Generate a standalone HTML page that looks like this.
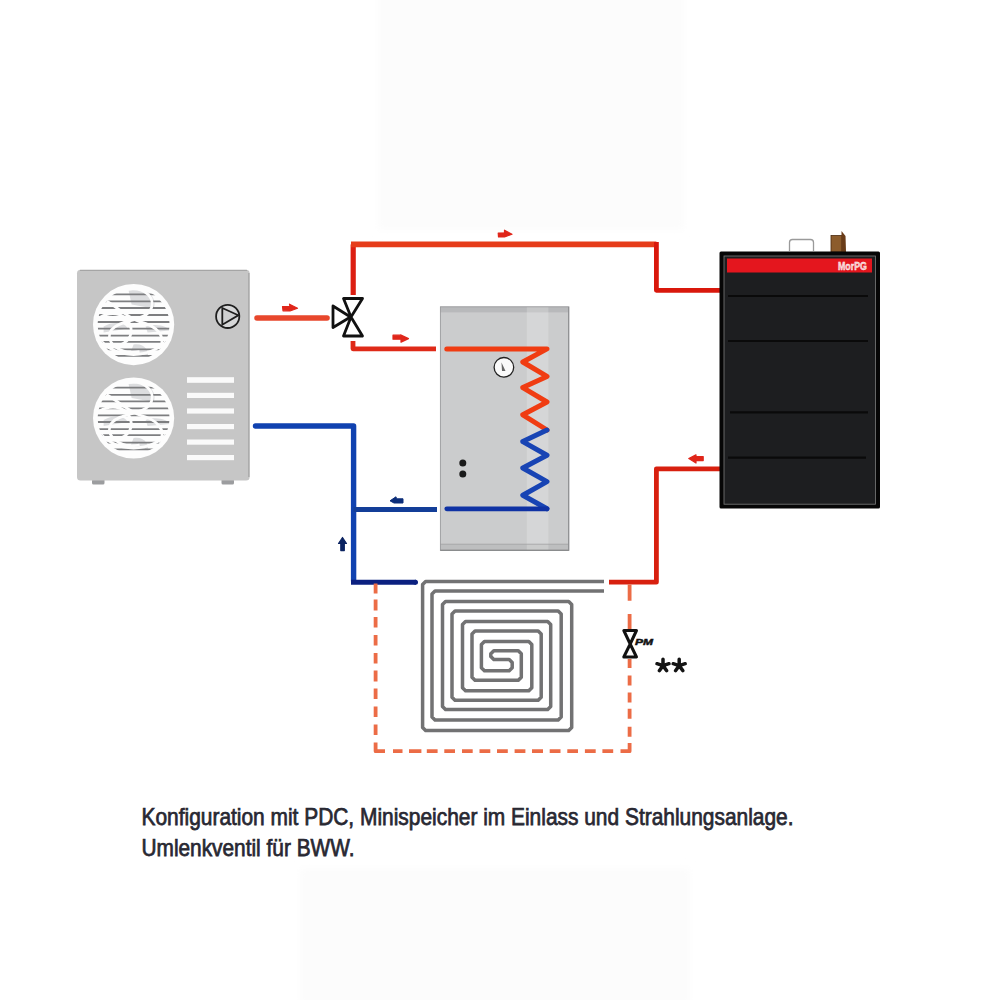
<!DOCTYPE html>
<html><head><meta charset="utf-8">
<style>
html,body{margin:0;padding:0;background:#ffffff;width:1000px;height:1000px;overflow:hidden}
svg{position:absolute;left:0;top:0}
</style></head>
<body>
<svg width="1000" height="1000" viewBox="0 0 1000 1000">
<defs>
<clipPath id="fc1"><circle cx="133.6" cy="324.6" r="36"/></clipPath>
<clipPath id="fc2"><circle cx="133.6" cy="418" r="36"/></clipPath>
<filter id="blur4" x="-20%" y="-20%" width="140%" height="140%"><feGaussianBlur stdDeviation="4"/></filter>
</defs>
<g filter="url(#blur4)" fill="#fcfcfc">
<rect x="378" y="-10" width="306" height="240"/>
<rect x="300" y="868" width="390" height="140"/>
</g>
<rect x="92" y="479" width="12.5" height="5.5" rx="1.5" fill="#9c9d9f"/>
<rect x="221.5" y="479" width="12.5" height="5.5" rx="1.5" fill="#9c9d9f"/>
<rect x="77" y="269.8" width="172.6" height="210.8" rx="3.5" fill="#c6c6c6"/>
<line x1="80" y1="270.4" x2="247" y2="270.4" stroke="#a2a2a2" stroke-width="1"/>
<line x1="248.8" y1="273" x2="248.8" y2="477" stroke="#acacac" stroke-width="1.6"/>
<circle cx="133.6" cy="324.6" r="40.6" fill="#fdfdfd"/>
<g clip-path="url(#fc1)" fill="#dcdddf"><path d="M128.6 290.6 C148.6 286.6 157.6 298.6 153.6 308.6 L131.6 304.6 Z"/><path d="M145.6 326.6 C157.6 322.6 167.6 326.6 169.6 330.6 L147.6 332.6 Z"/><path d="M103.6 326.6 C113.6 320.6 125.6 322.6 127.6 328.6 L103.6 332.6 Z"/><path d="M133.6 344.6 C143.6 342.6 149.6 350.6 147.6 356.6 L129.6 354.6 Z"/></g>
<g clip-path="url(#fc1)" stroke="#7d7e80" stroke-width="1.8"><line x1="88.6" y1="294.3" x2="178.6" y2="294.3"/><line x1="88.6" y1="301.40000000000003" x2="178.6" y2="301.40000000000003"/><line x1="88.6" y1="308.0" x2="178.6" y2="308.0"/><line x1="88.6" y1="315.0" x2="178.6" y2="315.0"/><line x1="88.6" y1="322.0" x2="178.6" y2="322.0"/><line x1="88.6" y1="328.6" x2="178.6" y2="328.6"/><line x1="88.6" y1="335.70000000000005" x2="178.6" y2="335.70000000000005"/><line x1="88.6" y1="341.8" x2="178.6" y2="341.8"/><line x1="88.6" y1="349.3" x2="178.6" y2="349.3"/><line x1="88.6" y1="355.90000000000003" x2="178.6" y2="355.90000000000003"/></g>
<g fill="none" stroke="#fdfdfd" stroke-width="2.8" clip-path="url(#fc1)"><path d="M125.6 289.6 C145.6 285.6 157.6 299.6 149.6 311.6 C141.6 321.6 119.6 319.6 111.6 329.6 C103.6 341.6 119.6 355.6 139.6 351.6"/><path d="M103.6 299.6 C115.6 305.6 127.6 317.6 139.6 321.6 C155.6 325.6 167.6 335.6 159.6 349.6"/><path d="M99.6 317.6 C109.6 311.6 123.6 311.6 129.6 323.6 C135.6 337.6 123.6 347.6 109.6 345.6"/><path d="M97.6 336.6 C113.6 360.6 153.6 360.6 169.6 336.6"/></g>
<circle cx="133.6" cy="418.0" r="40.6" fill="#fdfdfd"/>
<g clip-path="url(#fc2)" fill="#dcdddf"><path d="M128.6 384.0 C148.6 380.0 157.6 392.0 153.6 402.0 L131.6 398.0 Z"/><path d="M145.6 420.0 C157.6 416.0 167.6 420.0 169.6 424.0 L147.6 426.0 Z"/><path d="M103.6 420.0 C113.6 414.0 125.6 416.0 127.6 422.0 L103.6 426.0 Z"/><path d="M133.6 438.0 C143.6 436.0 149.6 444.0 147.6 450.0 L129.6 448.0 Z"/></g>
<g clip-path="url(#fc2)" stroke="#7d7e80" stroke-width="1.8"><line x1="88.6" y1="387.7" x2="178.6" y2="387.7"/><line x1="88.6" y1="394.8" x2="178.6" y2="394.8"/><line x1="88.6" y1="401.4" x2="178.6" y2="401.4"/><line x1="88.6" y1="408.4" x2="178.6" y2="408.4"/><line x1="88.6" y1="415.4" x2="178.6" y2="415.4"/><line x1="88.6" y1="422.0" x2="178.6" y2="422.0"/><line x1="88.6" y1="429.1" x2="178.6" y2="429.1"/><line x1="88.6" y1="435.2" x2="178.6" y2="435.2"/><line x1="88.6" y1="442.7" x2="178.6" y2="442.7"/><line x1="88.6" y1="449.3" x2="178.6" y2="449.3"/></g>
<g fill="none" stroke="#fdfdfd" stroke-width="2.8" clip-path="url(#fc2)"><path d="M125.6 383.0 C145.6 379.0 157.6 393.0 149.6 405.0 C141.6 415.0 119.6 413.0 111.6 423.0 C103.6 435.0 119.6 449.0 139.6 445.0"/><path d="M103.6 393.0 C115.6 399.0 127.6 411.0 139.6 415.0 C155.6 419.0 167.6 429.0 159.6 443.0"/><path d="M99.6 411.0 C109.6 405.0 123.6 405.0 129.6 417.0 C135.6 431.0 123.6 441.0 109.6 439.0"/><path d="M97.6 430.0 C113.6 454.0 153.6 454.0 169.6 430.0"/></g>
<g fill="#fafafa">
<rect x="187" y="377.2" width="47" height="5.6"/>
<rect x="187" y="392.8" width="47" height="5.2"/>
<rect x="187" y="408.4" width="47" height="5.2"/>
<rect x="187" y="424" width="47" height="5.2"/>
<rect x="187" y="439.5" width="47" height="5.2"/>
<rect x="187" y="455" width="47" height="5.2"/>
</g>
<g fill="none" stroke="#1e1e1e" stroke-width="1.8">
<circle cx="227.7" cy="316.4" r="11.6" fill="#d6d7d8"/>
<path d="M222.3 308 L238.3 315.3 L222.3 324.7 Z" fill="#cfd0d1"/>
</g>
<g fill="none" stroke-linejoin="round">
<line x1="257" y1="318" x2="327" y2="318" stroke="#e8472c" stroke-width="5.6" stroke-linecap="round"/>
<path d="M353.2 295 L353.2 244.4" stroke="#dc1e12" stroke-width="5.2"/>
<path d="M351 244.4 L656.4 244.4" stroke="#e63c1a" stroke-width="5.8"/>
<path d="M656.4 242 L656.4 290.3 L721 290.3" stroke="#d9180c" stroke-width="4.8"/>
<path d="M353 341 L353 348.8 L436 348.8" stroke="#df2a18" stroke-width="4.8"/>
<path d="M721 468.8 L656.4 468.8 L656.4 582.2 L609 582.2" stroke="#d8200f" stroke-width="4.8"/>
</g>
<g fill="none" stroke-linejoin="round">
<path d="M255.5 426 L353.6 426 L353.6 581" stroke="#1042b0" stroke-width="5.4" stroke-linecap="round"/>
<path d="M353.6 509.5 L437 509.5" stroke="#133e98" stroke-width="5"/>
<path d="M351 582.3 L416 582.3" stroke="#0b2080" stroke-width="5" stroke-linecap="butt"/>
<circle cx="415.5" cy="582.3" r="2.5" fill="#0b2080"/>
</g>
<g fill="none" stroke="#111" stroke-width="2.8" stroke-linejoin="round">
<path d="M343.5 298.5 L362.5 298.5 L351 317 L362.5 336 L343.5 336 L351 317 Z"/>
<path d="M333 306 L350.5 317 L333 327.5 Z"/>
</g>
<rect x="440.4" y="306.8" width="128.5" height="243.6" fill="#cbcccd"/>
<rect x="440.4" y="306.8" width="128.5" height="5.6" fill="#b8b9bb"/>
<rect x="440.4" y="544" width="128.5" height="6.4" fill="#bdbebf"/>
<rect x="526.8" y="306.8" width="21.6" height="243.6" fill="#ffffff" fill-opacity="0.2"/>
<line x1="440.4" y1="544.2" x2="568.9" y2="544.2" stroke="#a2a3a5" stroke-width="0.8"/>
<rect x="440.4" y="306.8" width="128.5" height="243.6" fill="none" stroke="#9a9b9d" stroke-width="0.9"/>
<line x1="440.4" y1="550.2" x2="568.9" y2="550.2" stroke="#808183" stroke-width="1"/>
<line x1="568.6" y1="307" x2="568.6" y2="550.5" stroke="#8e8f91" stroke-width="1"/>
<path d="M446.8 348.9 L547 348.9 L522.8 362 L547 376.4 L522.8 387.6 L547 402 L522.8 414.8 L547 430" fill="none" stroke="#f03c12" stroke-width="5" stroke-linejoin="round" stroke-linecap="round"/>
<path d="M547 430 L522.8 441.6 L547 455.2 L522.8 468 L547 481.6 L522.8 495.2 L547 508.8" fill="none" stroke="#1844b4" stroke-width="5" stroke-linejoin="round" stroke-linecap="round"/>
<path d="M446.8 508.8 L547 508.8" stroke="#0f32a4" stroke-width="4.8" stroke-linecap="round"/>
<circle cx="503.9" cy="367.3" r="9.8" fill="#fafafa" stroke="#222" stroke-width="1.3"/>
<path d="M501.5 362.5 L502 371 L505.5 371 Z" fill="#666"/>
<circle cx="462.8" cy="462.9" r="3.5" fill="#1a1a1a"/>
<circle cx="462.8" cy="474" r="3.5" fill="#1a1a1a"/>
<g fill="#e0261a" stroke="#e0261a" stroke-width="1.2" stroke-linejoin="round">
<path d="M282.5 306.5 L290 306.5 L289.5 304.2 L297.5 308.2 L290 311 L283 310.8 Z"/>
<path d="M393 335.2 L400.5 335.2 L400.5 334.9 L408.5 338.6 L401 342.2 L401 339.2 L393 339.2 Z"/>
<path d="M498.2 233 L504.5 232.8 L504.5 230.2 L512 234.2 L504.5 237 L498.5 237 Z"/>
<path d="M703.2 456.6 L696 456.6 L696 454.8 L688.8 458.6 L696 463 L696 460.6 L703.2 460.6 Z"/>
</g>
<path d="M403 498.8 L396.5 498.8 L396 496.8 L390 500.8 L394 503 L403 503 Z" fill="#0c2e7a" stroke="#0c2e7a" stroke-width="1" stroke-linejoin="round"/>
<path d="M340.8 550.6 L340.8 543.5 L338.5 543.5 L342.5 537.5 L346.5 543.5 L344.3 543.5 L344.3 550.6 Z" fill="#0a2260" stroke="#0a2260" stroke-width="1.2" stroke-linejoin="round"/>
<path d="M789.5 251 L789.5 242.5 Q789.5 239.5 792.5 239.5 L810.5 239.5 Q813.5 239.5 813.5 242.5 L813.5 251" fill="none" stroke="#9a9a9a" stroke-width="1.3"/>
<rect x="831" y="235.5" width="11" height="16.5" fill="#8c5c2c" stroke="#4a2a10" stroke-width="0.8"/>
<path d="M841.5 231 L845.5 236 L846 252 L841.5 252 Z" fill="#6a3c18"/>
<rect x="719.5" y="251.5" width="160.5" height="257" rx="1.5" fill="#060606"/>
<rect x="724" y="256" width="151.6" height="248.2" fill="#1d1e20" stroke="#7c7c7c" stroke-width="0.8"/>
<rect x="727" y="258.5" width="145" height="14" fill="#e4161e"/>
<text x="838" y="270" font-family="Liberation Sans, sans-serif" font-weight="bold" font-size="10.5" fill="#f4c0c0" stroke="#fff" stroke-width="0.4" textLength="29" lengthAdjust="spacingAndGlyphs">MorPG</text>
<g stroke="#0a0a0a" stroke-width="2.2">
<line x1="728" y1="296" x2="868" y2="296"/>
<line x1="728" y1="341" x2="868" y2="341"/>
<line x1="730" y1="412.4" x2="868" y2="412.4"/>
<line x1="728" y1="457.6" x2="866" y2="457.6"/>
</g>
<path d="M604.0 581.5 L425.6 581.5 L422.6 584.5 L422.6 727.6 L425.6 730.6 L568.7 730.6 L571.7 727.6 L571.7 604.5 L568.7 601.5 L445.5 601.5 L442.5 604.5 L442.5 706.6 L445.5 709.6 L547.7 709.6 L550.7 706.6 L550.7 624.5 L547.7 621.5 L465.5 621.5 L462.5 624.5 L462.5 687.7 L465.5 690.7 L528.8 690.7 L531.8 687.7 L531.8 644.4 L528.8 641.4 L484.4 641.4 L481.4 644.4 L481.4 667.8 L484.4 670.8 L509.2 670.8 L512.2 667.8 L512.2 662.6 L509.2 659.6 L493.8 659.6 L490.8 656.6 L490.8 653.8 L493.8 650.8 L518.3 650.8 L521.3 653.8 L521.3 677.2 L518.3 680.2 L475.0 680.2 L472.0 677.2 L472.0 634.0 L475.0 631.0 L538.2 631.0 L541.2 634.0 L541.2 697.2 L538.2 700.2 L455.0 700.2 L452.0 697.2 L452.0 614.0 L455.0 611.0 L558.2 611.0 L561.2 614.0 L561.2 717.1 L558.2 720.1 L435.0 720.1 L432.0 717.1 L432.0 594.0 L435.0 591.0 L604.0 591.0" fill="none" stroke="#727273" stroke-width="3.5" stroke-linejoin="round"/>
<path d="M375.6 583.6 L375.6 593.5 M375.6 599.5 L375.6 610.5 M375.6 617 L375.6 627.5 M375.6 635 L375.6 645.5 M375.6 653 L375.6 663.5 M375.6 670.6 L375.6 681.4 M375.6 688.6 L375.6 699 M375.6 706.5 L375.6 717 M375.6 724.5 L375.6 735 M375.6 742.5 L375.6 751.2 L385 751.2 M393 751.2 L402.5 751.2 M409 751.2 L421.4 751.2 M426.8 751.2 L437.6 751.2 M444.3 751.2 L455 751.2 M462 751.2 L472.7 751.2 M479.5 751.2 L490.3 751.2 M497 751.2 L507.8 751.2 M514.6 751.2 L525.4 751.2 M532 751.2 L543 751.2 M549.7 751.2 L560.5 751.2 M567.3 751.2 L578 751.2 M584.9 751.2 L595.7 751.2 M602.4 751.2 L613.2 751.2 M620.5 751.2 L629.6 751.2 L629.6 743 M629.6 584.5 L629.6 600.7 M629.6 614 L629.6 630 M629.6 659 L629.6 668 M629.6 675.5 L629.6 685.4 M629.6 692.6 L629.6 702.5 M629.6 708.8 L629.6 718.7 M629.6 726.8 L629.6 736.8" fill="none" stroke="#ec6c46" stroke-width="3.8" stroke-linejoin="round"/>
<path d="M623.8 630.5 L636.5 630.5 L630.2 644 L636.5 657 L623.8 657 L630.2 644 Z" fill="#fcfcfc" stroke="#111" stroke-width="3" stroke-linejoin="round"/>
<text x="635" y="645" font-family="Liberation Sans, sans-serif" font-weight="bold" font-style="italic" font-size="9.5" fill="#111" stroke="#111" stroke-width="0.5" textLength="18" lengthAdjust="spacingAndGlyphs">PM</text>
<path d="M663.0 665.6 L663.0 659.3 M663.0 665.6 L669.0 663.7 M663.0 665.6 L657.0 663.7 M663.0 665.6 L666.7 670.7 M663.0 665.6 L659.3 670.7 M679.2 665.6 L679.2 659.3 M679.2 665.6 L685.2 663.7 M679.2 665.6 L673.2 663.7 M679.2 665.6 L682.9 670.7 M679.2 665.6 L675.5 670.7 " fill="none" stroke="#141414" stroke-width="3.5" stroke-linecap="round"/>
<g font-family="Liberation Sans, sans-serif" font-size="24" fill="#282832" stroke="#282832" stroke-width="0.75">
<text x="141.5" y="824.5" textLength="652" lengthAdjust="spacingAndGlyphs">Konfiguration mit PDC, Minispeicher im Einlass und Strahlungsanlage.</text>
<text x="141.5" y="856.2" textLength="213" lengthAdjust="spacingAndGlyphs">Umlenkventil für BWW.</text>
</g>
</svg>
</body></html>
